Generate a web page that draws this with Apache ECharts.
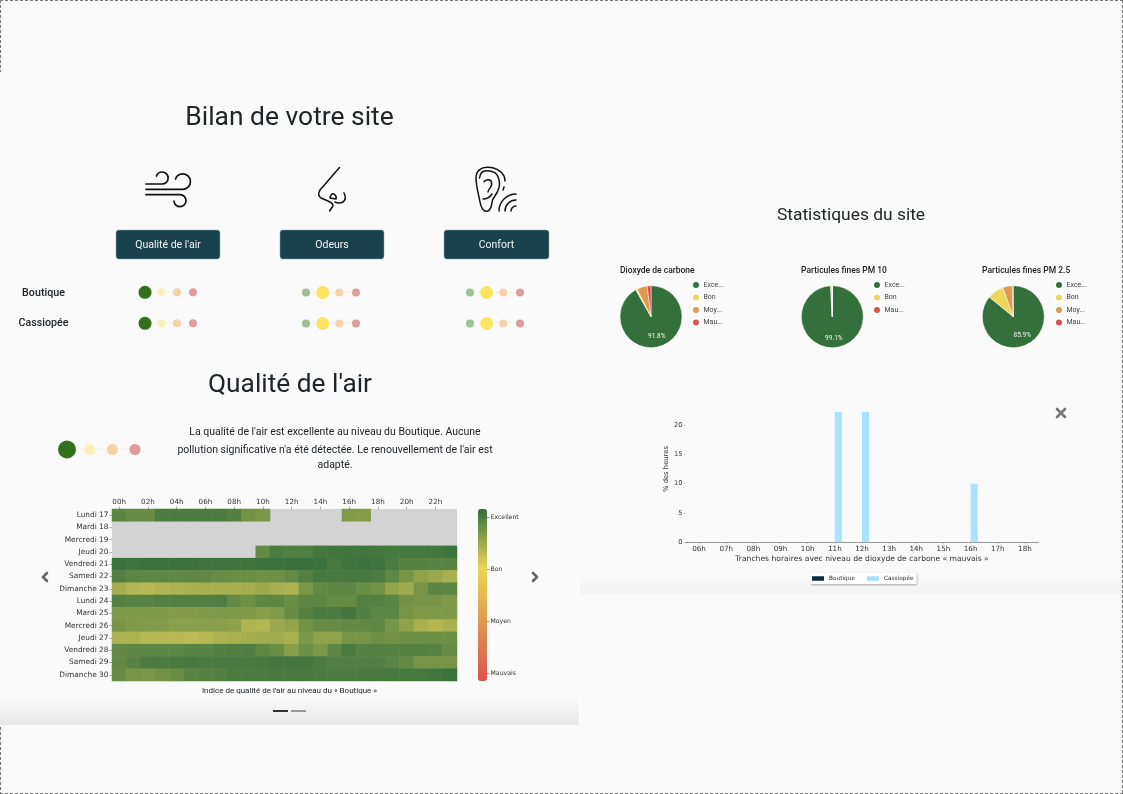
<!DOCTYPE html>
<html lang="fr"><head><meta charset="utf-8"><title>Bilan de votre site</title>
<style>html,body{margin:0;padding:0;background:#fafafa}#c{width:1123px;height:794px}</style>
<script src="https://cdn.jsdelivr.net/npm/echarts@6/dist/echarts.min.js"></script>
</head><body><div id="c"></div>
<script>
// ---------- data ----------
const hours = ['00h','01h','02h','03h','04h','05h','06h','07h','08h','09h','10h','11h','12h','13h','14h','15h','16h','17h','18h','19h','20h','21h','22h','23h'];
const days = ['Lundi 17','Mardi 18','Mercredi 19','Jeudi 20','Vendredi 21','Samedi 22','Dimanche 23','Lundi 24','Mardi 25','Mercredi 26','Jeudi 27','Vendredi 28','Samedi 29','Dimanche 30'];
const _ = null;
const lundi17 = [2.9,2.82,2.82,3,3,3,3,3,2.95,2.75,2.7,_,_,_,_,_,2.66,2.64,_,_,_,_,_,_];
const mardi18 = [_,_,_,_,_,_,_,_,_,_,_,_,_,_,_,_,_,_,_,_,_,_,_,_];
const mercredi19 = [_,_,_,_,_,_,_,_,_,_,_,_,_,_,_,_,_,_,_,_,_,_,_,_];
const jeudi20 = [_,_,_,_,_,_,_,_,_,_,2.85,3,2.98,2.98,3.05,3.06,3.06,3.06,3.05,3.03,3.03,3.03,3.05,3.08];
const vendredi21 = [3.1,3.08,3.1,3.1,3.1,3.1,3.08,3.08,3.08,3.08,3.1,3.1,3.12,3.12,3.1,3.03,3.08,3.1,3.08,3,2.93,2.93,2.92,2.92];
const samedi22 = [2.95,2.9,2.88,2.88,2.87,2.87,2.87,2.82,2.8,2.8,2.76,2.78,2.85,2.95,3.03,3.03,3.03,3.03,3,2.88,2.72,2.58,2.52,2.42];
const dimanche23 = [2.45,2.36,2.33,2.38,2.4,2.42,2.44,2.43,2.43,2.45,2.5,2.43,2.4,2.7,2.85,2.88,2.88,2.8,2.75,2.55,2.48,2.72,2.9,2.88];
const lundi24 = [2.93,2.92,2.92,2.95,2.95,2.95,2.95,2.97,2.85,2.78,2.88,2.88,2.8,2.88,2.88,2.83,2.83,2.93,2.93,2.9,2.75,2.72,2.72,2.68];
const mardi25 = [2.68,2.68,2.68,2.68,2.65,2.65,2.68,2.68,2.68,2.68,2.62,2.66,2.82,2.93,3,3,3.05,2.95,2.88,2.88,2.72,2.68,2.68,2.68];
const mercredi26 = [2.72,2.68,2.66,2.66,2.6,2.6,2.62,2.62,2.58,2.38,2.35,2.5,2.55,2.75,2.82,2.82,2.85,2.85,2.87,2.72,2.58,2.42,2.35,2.42];
const jeudi27 = [2.4,2.4,2.33,2.33,2.33,2.3,2.33,2.4,2.42,2.45,2.47,2.47,2.42,2.7,2.58,2.58,2.72,2.72,2.78,2.75,2.78,2.78,2.78,2.78];
const vendredi28 = [2.85,2.88,2.88,2.88,2.88,2.92,2.92,2.95,2.97,2.97,2.87,2.8,2.62,2.78,2.7,2.88,3,2.93,2.93,2.93,2.93,2.93,2.92,2.82];
const samedi29 = [2.85,2.92,3,3,3.02,3.03,3,3.02,3.02,3.02,3.03,3.05,3.05,3.05,3,2.96,2.96,2.96,2.96,2.92,2.85,2.72,2.72,2.72];
const dimanche30 = [2.82,2.72,2.7,2.75,2.8,2.92,2.93,2.95,3,3,3,3.02,3.02,3.02,3,3,3,3.02,3.02,3.03,3.03,3.03,3.05,3.1];
const heatRows = [lundi17,mardi18,mercredi19,jeudi20,vendredi21,samedi22,dimanche23,lundi24,mardi25,mercredi26,jeudi27,vendredi28,samedi29,dimanche30];

const qualityLabels = ['Mauvais','Moyen','Bon','Excellent'];
const pieNames = ['Excellent','Bon','Moyen','Mauvais'];
const pieTruncated = {Excellent:'Exce...',Bon:'Bon',Moyen:'Moy...',Mauvais:'Mau...'};
const co2Shares = [91.8,0.8,5.4,2.0];
const pm10Shares = [99.1,0.9,0,0];
const pm25Shares = [85.9,8.6,5.0,0.5];

const slotHours = ['06h','07h','08h','09h','10h','11h','12h','13h','14h','15h','16h','17h','18h'];
const boutiqueBad = [0,0,0,0,0,0,0,0,0,0,0,0,0];
const cassiopeeBad = [0,0,0,0,0,22.2,22.2,0,0,0,10,0,0];

const sites = ['Boutique','Cassiopée'];
const levels = ['Excellent','Bon','Moyen','Mauvais'];
const airStatus = [0,0];      // index of level per site
const odeurStatus = [1,1];
const confortStatus = [1,1];

// ---------- styling ----------
const RB = 'Roboto, sans-serif', DJ = '"DejaVu Sans", sans-serif';
const C = {green:'#33703b',yellow:'#ecd65c',orange:'#e09a4f',red:'#d9534f'};
const vivid = ['#33701b','#fde55f','#f0a24f','#cc4040'];
const pale = ['#9dc095','#fbf0b5','#f6d2a8','#e29a9a'];

// colour ramp with its anchors exactly on the four quality levels
const rampAnchors = [[-0.15,C.red],[1,C.orange],[2,C.yellow],[3.15,'#336e3b']];
const rampStops = [];
for (let i=0;i<=66;i++){
  const v=-0.15+i*0.05;
  let k=0; while(k<rampAnchors.length-2 && v>rampAnchors[k+1][0]) k++;
  const a=rampAnchors[k], b=rampAnchors[k+1];
  rampStops.push(echarts.color.lerp(Math.min(1,Math.max(0,(v-a[0])/(b[0]-a[0]))),[a[1],b[1]]));
}

const grids = [
  {left:112,top:509,width:345,height:172,show:true,backgroundColor:'#d3d3d3',borderWidth:0},
  {left:487,top:517,width:1,height:156},
  {left:685.5,top:395.7,width:353,height:146.6},
  {left:145,top:292.3,width:48,height:31},
  {left:306,top:292.5,width:50,height:31},
  {left:470,top:292.5,width:50,height:31},
  {left:67,top:449,width:68,height:1}
];
const xAxes = [
  {gridIndex:0,type:'category',data:hours,position:'top',axisLine:{show:false},splitLine:{show:false},
   axisTick:{show:true,alignWithLabel:true,interval:1,length:2.5,lineStyle:{color:'#777',width:.6}},
   axisLabel:{interval:1,fontFamily:DJ,fontSize:7.2,color:'#333',margin:3}},
  {gridIndex:1,type:'value',show:false},
  {gridIndex:2,type:'category',data:slotHours,axisLine:{lineStyle:{color:'#999',width:1}},
   axisTick:{show:true,alignWithLabel:true,length:1.5,lineStyle:{color:'#999',width:.6}},
   axisLabel:{fontFamily:DJ,fontSize:7.2,color:'#333',margin:3},
   name:'Tranches horaires avec niveau de dioxyde de carbone « mauvais »',nameLocation:'middle',nameGap:12.5,
   nameTextStyle:{fontFamily:DJ,fontSize:7.6,color:'#333'}}
];
const yAxes = [
  {gridIndex:0,type:'category',data:days,inverse:true,axisLine:{show:false},splitLine:{show:false},
   axisTick:{show:true,alignWithLabel:true,length:2.5,lineStyle:{color:'#777',width:.6}},
   axisLabel:{interval:0,fontFamily:DJ,fontSize:7.4,color:'#333',margin:3.5}},
  {gridIndex:1,type:'value',min:0,max:3,interval:1,position:'right',axisLine:{show:false},splitLine:{show:false},
   axisTick:{show:true,length:2.5,lineStyle:{color:'#555',width:.6}},
   axisLabel:{fontFamily:DJ,fontSize:6.2,color:'#333',margin:2.5,formatter:v=>qualityLabels[v]}},
  {gridIndex:2,type:'value',min:0,max:25,interval:5,axisLine:{show:false},splitLine:{show:false},
   axisTick:{show:true,length:1.5,lineStyle:{color:'#999',width:.6}},
   axisLabel:{fontFamily:DJ,fontSize:6.6,color:'#333',margin:3,showMaxLabel:false},
   name:'% des heures',nameLocation:'middle',nameGap:13,nameRotate:90,
   nameTextStyle:{fontFamily:DJ,fontSize:6.8,color:'#333',padding:[0,0,-8,0]}}
];
// status-dot grids: one x axis of levels, one y axis of sites, hidden
for (let g=3;g<=5;g++){
  xAxes.push({gridIndex:g,type:'category',data:levels,boundaryGap:false,show:false});
  yAxes.push({gridIndex:g,type:'category',data:sites,boundaryGap:false,inverse:true,show:false});
}
xAxes.push({gridIndex:6,type:'category',data:levels,boundaryGap:false,show:false});
yAxes.push({gridIndex:6,type:'category',data:['Boutique'],boundaryGap:true,show:false});

function dotSeries(gridIdx,status,big,small){
  const pts=[];
  status.forEach((active,row)=>levels.forEach((l,col)=>{
    const on=col===active;
    pts.push({value:[col,row],symbolSize:on?big:small,itemStyle:{color:on?vivid[col]:pale[col],opacity:1}});
  }));
  return {type:'scatter',xAxisIndex:gridIdx,yAxisIndex:gridIdx,data:pts,silent:true,z:5};
}
function pieSeries(name,shares,cx,off){
  return {type:'pie',name,center:[cx,316.7],radius:[0,31],startAngle:90,clockwise:true,avoidLabelOverlap:false,silent:true,
    itemStyle:{borderColor:'#fff',borderWidth:.5},labelLine:{show:false},
    data:pieNames.map((n,i)=>({name:n,value:shares[i],
      itemStyle:{color:[C.green,C.yellow,C.orange,C.red][i]},
      label:i===0?{show:true,position:'inside',offset:off,formatter:'{c}%',color:'#f4f4f4',fontFamily:RB,fontSize:6.5,fontWeight:400}:{show:false}}))};
}
function pieLegend(names,x){
  return {left:x,top:280,orient:'vertical',data:names,icon:'circle',itemWidth:8,itemHeight:8,itemGap:2.5,padding:0,selectedMode:false,
    formatter:n=>pieTruncated[n],textStyle:{fontFamily:RB,fontSize:7,color:'#444',padding:[0,0,0,-1.5]}};
}
const heatData=[];
heatRows.forEach((row,y)=>row.forEach((v,x)=>{ if(v!==null) heatData.push([x,y,v]); }));

// ---------- page furniture ----------
const txt=(t,x,y,size,o={})=>({type:'text',x,y:y+1.4,z:10,silent:true,style:Object.assign({text:t,fill:'#212529',font:`${o.w||400} ${size}px ${RB}`,textAlign:'center',textVerticalAlign:'middle'},o.s||{})});
const btn=(t,x,w)=>[
  {type:'rect',z:8,silent:true,shape:{x,y:230,width:w,height:29,r:3},style:{fill:'#1a424c',stroke:'#8fa4aa',lineWidth:.5}},
  txt(t,x+w/2,244,10.5,{s:{fill:'#f2f5f6'}})];
const dash=(x1,y1,x2,y2)=>({type:'line',z:9,silent:true,shape:{x1,y1,x2,y2},style:{stroke:'#777',lineWidth:1,lineDash:[3,2]}});
const faint=(x1,x2,y)=>({type:'line',z:1,silent:true,shape:{x1,y1:y,x2,y2:y},style:{stroke:'#f1f1f1',lineWidth:1}});
const rawPath=(d,stroke,lw)=>echarts.graphic.makePath(d,{style:{fill:'none',stroke,lineWidth:lw,lineCap:'round',lineJoin:'round'},silent:true,z:8});
const shade=(x,y,w,h,col)=>({type:'rect',z:-5,silent:true,shape:{x,y,width:w,height:h},style:{fill:{type:'linear',x:0,y:0,x2:0,y2:1,colorStops:[{offset:0,color:'#fafafa'},{offset:1,color:col}]}}});

const graphicEls=[
  dash(0,.5,1123,.5),dash(1122.5,0,1122.5,794),dash(0,793.5,1123,793.5),dash(.5,0,.5,72),dash(.5,727,.5,794),
  {type:'line',z:-4,silent:true,shape:{x1:579.5,y1:72,x2:579.5,y2:725},style:{stroke:'#fefefe',lineWidth:1}},
  shade(0,698,580,27,'#e8e8e8'),shade(580,574,543,20,'#f3f3f3'),
  txt('Bilan de votre site',289.5,117,26.4),
  txt('Statistiques du site',851,214,17.4),
  txt("Qualité de l'air",290,384,26.3),
  ...btn("Qualité de l'air",116,104),...btn('Odeurs',280,104),...btn('Confort',444,105),
  txt('Boutique',43.5,292,10.7,{w:500}),txt('Cassiopée',43.5,322,10.7,{w:500}),
  txt("La qualité de l'air est excellente au niveau du Boutique. Aucune",335,431,10.5),
  txt("pollution significative n'a été détectée. Le renouvellement de l'air est",335,448.5,10.5),
  txt('adapté.',335,464,10.5),
  txt("Indice de qualité de l'air au niveau du « Boutique »",289.5,690,8),
  faint(145,193,292.5),faint(145,193,323),faint(306,356,292.5),faint(306,356,323),faint(470,520,292.5),faint(470,520,323),faint(67,135,449),
  {type:'rect',z:8,silent:true,shape:{x:273,y:710,width:15,height:2},style:{fill:'#333'}},
  {type:'rect',z:8,silent:true,shape:{x:291,y:710,width:15,height:2},style:{fill:'#999'}}
];
const strokes=[
  ['M146 184 H162 A6 6 0 1 0 156.5 176 M146 189.3 H183 A7.7 7.7 0 1 0 175.5 179 M146 194.7 H180 A6 6 0 1 1 174 201','#111',1.7],
  ['M339.5 167.5 L320 190 Q317 195 321 198 L328 201 Q333 203 333 206 L329.5 211 M330 198 Q331 193 334 194 Q337 196 336 199 Z M344 193 Q347 199 343 202 Q339 204 335 202','#111',1.5],
  ['M476 178 C476 171 481 167 488 167.3 C496 167.5 505 172 505 181 M504 187 L503 190 M479.5 178 C480 173 483 170.5 487 170.7 C493 171 498.5 172 499.5 183 C500 190 496 194 493 199 C491 203 492.5 209 488 211 C483.5 212.5 481 208 480 202 C479 196 476 186 476 178 M484 181.7 C487 178.5 491.7 179 491.7 184 C491.7 188 488 189 488 192 M483 199 C487 199 490 197 492 194','#111',1.5],
  ['M499 211 A17 17 0 0 1 516 194 M505 211 A11 11 0 0 1 516 200 M511 211 A5 5 0 0 1 516 206','#111',1.5],
  ['M47 573 L43 577 L47 581','#666',2.6],['M533 573 L537 577 L533 581','#666',2.6],
  ['M1057 409 L1065 417 M1065 409 L1057 417','#777',2.6]
];

const option={
  animation:false,backgroundColor:'#fafafa',
  graphic:{elements:graphicEls},
  grid:grids,xAxis:xAxes,yAxis:yAxes,
  visualMap:{type:'continuous',seriesIndex:0,min:-0.15,max:3.15,left:478,top:509,itemWidth:9,itemHeight:172,padding:0,
    calculable:false,realtime:false,hoverLink:false,text:null,showLabel:false,
    inRange:{color:rampStops},textStyle:{fontSize:1,color:'rgba(0,0,0,0)'},formatter:()=>''},
  legend:[
    pieLegend(pieNames,691),pieLegend(['Excellent','Bon','Mauvais'],872),pieLegend(pieNames,1054),
    {left:810,top:573,data:['Boutique','Cassiopée'],icon:'rect',itemWidth:12,itemHeight:4.5,itemGap:12,selectedMode:false,
     padding:[2.5,3,2.5,2],backgroundColor:'#fff',shadowColor:'rgba(0,0,0,.35)',shadowBlur:2,shadowOffsetX:.5,shadowOffsetY:.5,
     textStyle:{fontFamily:DJ,fontSize:5.8,color:'#333'}}
  ],
  series:[
    {type:'heatmap',xAxisIndex:0,yAxisIndex:0,data:heatData,silent:true,progressive:0},
    pieSeries('Dioxyde de carbone',co2Shares,651,[1,2]),
    pieSeries('Particules fines PM 10',pm10Shares,832.3,[1,3]),
    pieSeries('Particules fines PM 2.5',pm25Shares,1013.3,[1,2]),
    {type:'bar',name:'Boutique',xAxisIndex:2,yAxisIndex:2,data:boutiqueBad,barWidth:7,barGap:0,itemStyle:{color:'#0d2b3e'},silent:true},
    {type:'bar',name:'Cassiopée',xAxisIndex:2,yAxisIndex:2,data:cassiopeeBad,barWidth:7,barGap:0,itemStyle:{color:'#a8e2fd'},silent:true},
    dotSeries(3,airStatus,13,8),
    dotSeries(4,odeurStatus,13,8),
    dotSeries(5,confortStatus,13,8),
    dotSeries(6,[0],18,11)
  ],
  title:[
    {text:'Dioxyde de carbone',left:620,top:266,padding:0,textStyle:{fontFamily:RB,fontSize:8.5,fontWeight:500,color:'#222'}},
    {text:'Particules fines PM 10',left:801,top:266,padding:0,textStyle:{fontFamily:RB,fontSize:8.5,fontWeight:500,color:'#222'}},
    {text:'Particules fines PM 2.5',left:982,top:266,padding:0,textStyle:{fontFamily:RB,fontSize:8.5,fontWeight:500,color:'#222'}}
  ]
};
const chart=echarts.init(document.getElementById('c'),null,{renderer:'canvas'});
chart.setOption(option);
// line icons and arrows
const zr=chart.getZr();
strokes.forEach(([d,s,w])=>zr.add(rawPath(d,s,w)));
</script></body></html>
